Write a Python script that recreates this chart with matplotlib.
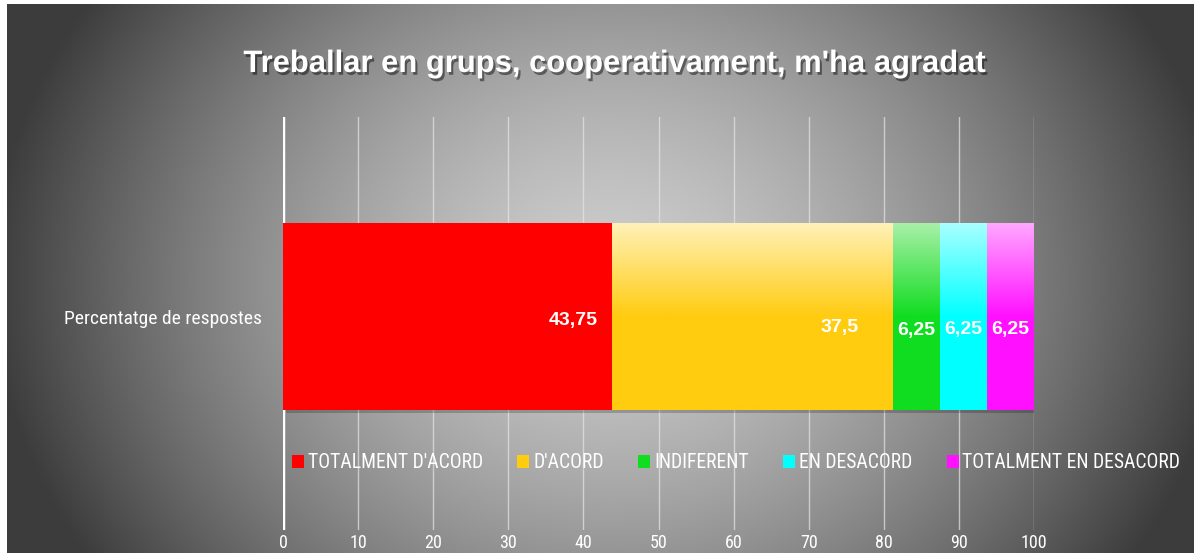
import numpy as np
import matplotlib
matplotlib.use("Agg")
import matplotlib.pyplot as plt
from matplotlib import patheffects as pe
from matplotlib.patches import Rectangle
from matplotlib.colors import LinearSegmentedColormap
from matplotlib import font_manager as fm

# ---- data ----
title = "Treballar en grups, cooperativament, m'ha agradat"
category = "Percentatge de respostes"
series_names = ["TOTALMENT D'ACORD", "D'ACORD", "INDIFERENT", "EN DESACORD", "TOTALMENT EN DESACORD"]
series_values = [43.75, 37.5, 6.25, 6.25, 6.25]
value_labels = ["43,75", "37,5", "6,25", "6,25", "6,25"]
xticks = [0, 10, 20, 30, 40, 50, 60, 70, 80, 90, 100]

# ---- styles ----
top_colors = ["#ff0000", "#fff1b8", "#a8f0a8", "#a8ffff", "#ffa8ff"]
bot_colors = ["#ff0000", "#ffcc10", "#10dd20", "#00ffff", "#ff10ff"]
label_dx = [-14, -35, 0, 0, 0]       # pixel offsets
label_dy = [-4, -11, -14, -13, -13]
label_ha = ["right", "right", "center", "center", "center"]

# pick a condensed font if one is installed
names = {f.name for f in fm.fontManager.ttflist}
narrow = "Liberation Sans"
for cand in ["Roboto Condensed", "Liberation Sans Narrow", "Open Sans Condensed", "Arial Narrow"]:
    if cand in names:
        narrow = cand
        break
font = [narrow, "DejaVu Sans"]
bold_font = ["Liberation Sans", "DejaVu Sans"]

W, H = 1194, 553
fig = plt.figure(figsize=(W / 100, H / 100), dpi=100, facecolor="white")

# background radial gradient
bg = fig.add_axes([7 / W, 0, (W - 7) / W, (H - 4) / H])
bg.set_axis_off()
gx = np.linspace(7, W, 600)
gy = np.linspace(4, H, 300)
X, Y = np.meshgrid(gx, gy)
r = np.sqrt(((X - 610) / 620) ** 2 + ((Y - 280) / 520) ** 2)
r = np.clip(r, 0, 1)
val = 205 - (205 - 60) * r ** 1.5
img = np.dstack([val, val, val]) / 255.0
bg.imshow(img, aspect="auto", extent=[0, 1, 0, 1], interpolation="bilinear")
bg.set_xlim(0, 1)
bg.set_ylim(0, 1)

# main axes
x0, x1 = 283, 1034
ytop, ybot = 117, 530
ax = fig.add_axes([x0 / W, (H - ybot) / H, (x1 - x0) / W, (ybot - ytop) / H])
ax.patch.set_alpha(0)
for s in ax.spines.values():
    s.set_visible(False)
ax.set_xticks(xticks)
ax.set_xticklabels([str(t) for t in xticks], color="white", fontsize=13, family=font)
ax.tick_params(axis="x", length=0, pad=3)
ax.set_yticks([0])
ax.set_yticklabels([category], color="white", fontsize=14, family=font)
ax.tick_params(axis="y", length=0, pad=15)
ax.grid(axis="x", color="#e6e6e6", linewidth=1.0, alpha=0.7, zorder=0)
ax.set_axisbelow(True)
ax.axvline(0, color="white", linewidth=2.5, zorder=1)

left = 0
for i, v in enumerate(series_values):
    b = ax.barh(0, v, left=left, height=1.0, color=bot_colors[i], label=series_names[i],
                zorder=3, edgecolor="none")
    rect = b.patches[0]
    rect.set_path_effects([pe.SimplePatchShadow(offset=(2, -2), shadow_rgbFace="black", alpha=0.2),
                           pe.Normal()])
    cmap = LinearSegmentedColormap.from_list("g%d" % i, [top_colors[i], bot_colors[i], bot_colors[i]])
    grad = np.linspace(0, 1, 256).reshape(-1, 1)
    im = ax.imshow(grad, cmap=cmap, aspect="auto", extent=[left, left + v, -0.5, 0.5],
                   origin="upper", zorder=4)
    im.set_clip_path(rect)
    ax.annotate(value_labels[i], xy=(left + v if label_ha[i] == "right" else left + v / 2, 0),
                xytext=(label_dx[i] * 0.72, label_dy[i] * 0.72), textcoords="offset points",
                ha=label_ha[i], va="center", color="white", fontsize=14, fontweight="bold",
                family=bold_font, zorder=6)
    left += v
ax.set_xlim(0, 100)
ax.set_ylim(-1.145, 1.07)

# legend
handles = [Rectangle((0, 0), 1, 1, facecolor=c, edgecolor="none") for c in bot_colors]
leg = fig.legend(handles, series_names, loc="center left", ncol=5,
                 bbox_to_anchor=(292 / W, 1 - 463 / H), frameon=False,
                 prop={"family": font, "size": 14.1},
                 handlelength=0.6, handleheight=0.6,
                 handletextpad=0.2, columnspacing=1.77, labelcolor="white",
                 borderaxespad=0, borderpad=0)

# title
t = fig.text(615 / W, 1 - 72 / H, title, ha="center", va="baseline", color="white",
             fontsize=22.3, fontweight="bold", family=bold_font)
t.set_path_effects([pe.withSimplePatchShadow(offset=(1.5, -2), shadow_rgbFace="black", alpha=0.45)])

fig.savefig("out.png", dpi=100, facecolor="white")
